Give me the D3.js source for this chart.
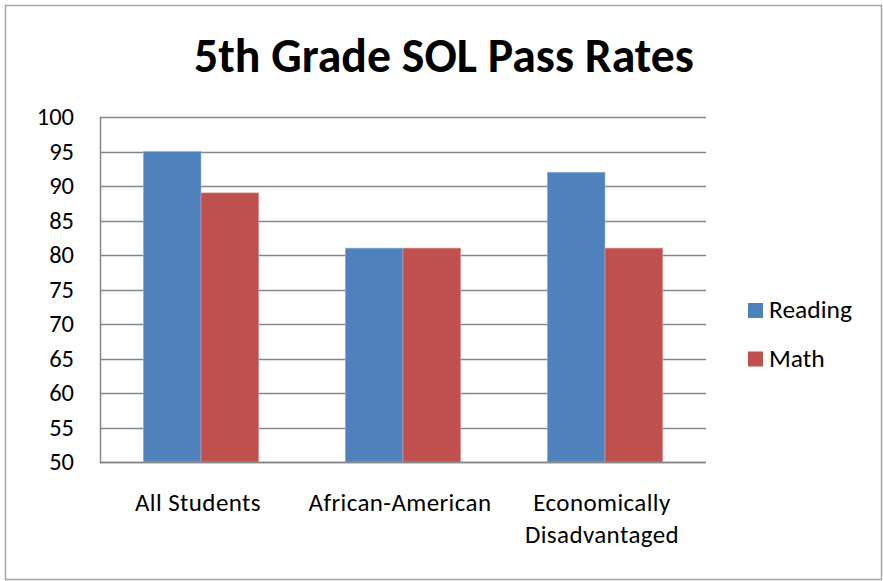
<!DOCTYPE html>
<html><head><meta charset="utf-8">
<script src="https://cdn.jsdelivr.net/npm/d3@7"></script>
<style>
html,body{margin:0;padding:0;background:#fff;}
svg{display:block;font-family:Carlito,Calibri,Lato,"Open Sans",sans-serif;}
</style></head>
<body>
<svg id="chart" width="883" height="581"></svg>
<script>
const categories = [["All Students"], ["African-American"], ["Economically", "Disadvantaged"]];
const seriesNames = ["Reading", "Math"];
const reading = [95, 81, 92];
const math = [89, 81, 81];
const yTicks = [50, 55, 60, 65, 70, 75, 80, 85, 90, 95, 100];
const colors = ["#4F81BD", "#C0504D"];

(function () {
const svg = d3.select("#chart");
svg.append("rect").attr("x", 5.5).attr("y", 5.5).attr("width", 876).attr("height", 574)
  .attr("fill", "#fff").attr("stroke", "#a6a6a6").attr("stroke-width", 1.5);

const pLeft = 100, pRight = 706, pTop = 117, pBottom = 462;
const catKeys = categories.map(c => c.join(" "));
const x0 = d3.scaleBand().domain(catKeys).range([pLeft, pRight]).paddingInner(0).paddingOuter(0);
const x1 = d3.scaleBand().domain(seriesNames).range([0, x0.bandwidth()]).paddingInner(0).paddingOuter(0.75);
const y = d3.scaleLinear().domain([50, 100]).range([pBottom, pTop]);

// gridlines
svg.append("g").selectAll("line").data(yTicks).join("line")
  .attr("x1", pLeft).attr("x2", pRight)
  .attr("y1", d => Math.round(y(d)) + 0.5).attr("y2", d => Math.round(y(d)) + 0.5)
  .attr("stroke", "#868686").attr("stroke-width", 1.3);

// bars
const data = catKeys.map((k, i) => ({key: k, vals: [reading[i], math[i]]}));
const g = svg.append("g");
data.forEach(d => {
  d.vals.forEach((v, j) => {
    g.append("rect")
      .attr("x", x0(d.key) + x1(seriesNames[j]))
      .attr("y", y(v))
      .attr("width", x1.bandwidth())
      .attr("height", y(50) - y(v))
      .attr("fill", colors[j])
      .attr("stroke", j === 0 ? "#9db5da" : "#d99a98")
      .attr("stroke-width", 0.6);
  });
});

// axes lines
svg.append("line").attr("x1", pLeft + 0.5).attr("x2", pLeft + 0.5).attr("y1", pTop).attr("y2", pBottom + 1)
  .attr("stroke", "#868686").attr("stroke-width", 1.5);
svg.append("line").attr("x1", pLeft).attr("x2", pRight).attr("y1", pBottom + 0.5).attr("y2", pBottom + 0.5)
  .attr("stroke", "#868686").attr("stroke-width", 1.5);

// y axis labels
const yAxis = d3.axisLeft(y).tickValues(yTicks).tickSize(0).tickPadding(26);
const ya = svg.append("g").attr("transform", `translate(${pLeft},0)`).call(yAxis);
ya.select(".domain").remove();
ya.selectAll("text").attr("font-size", 24.5).attr("fill", "#000")
  .attr("font-family", "Carlito,Calibri,Lato,'Open Sans',sans-serif");

// x labels
categories.forEach((lines, i) => {
  const cx = x0(catKeys[i]) + x0.bandwidth() / 2 - 3;
  const t = svg.append("text").attr("x", cx).attr("y", 511).attr("text-anchor", "middle")
    .attr("font-size", 25).attr("letter-spacing", 0.4).attr("fill", "#000");
  lines.forEach((l, k) => t.append("tspan").attr("x", cx).attr("dy", k === 0 ? 0 : 32).text(l));
});

// title
svg.append("text").attr("x", 444).attr("y", 72).attr("text-anchor", "middle")
  .attr("font-size", 47.8).attr("font-weight", "bold").attr("fill", "#000")
  .text("5th Grade SOL Pass Rates");

// legend
seriesNames.forEach((s, i) => {
  const ly = 303 + i * 48.5;
  svg.append("rect").attr("x", 748).attr("y", ly).attr("width", 15).attr("height", 15).attr("fill", colors[i]);
  svg.append("text").attr("x", 769).attr("y", ly + 15).attr("font-size", 25.5).attr("fill", "#000").text(s);
});
})();
</script>
</body></html>
